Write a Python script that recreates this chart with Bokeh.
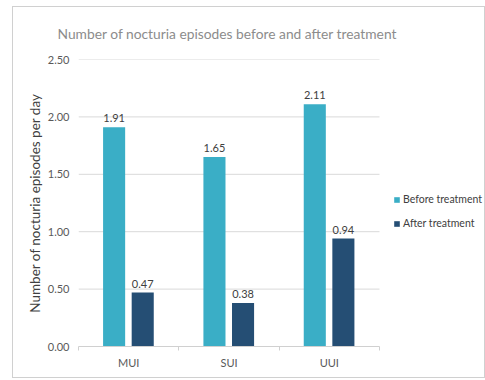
import numpy as np
from bokeh.plotting import figure
from bokeh.models import ColumnDataSource, LabelSet, Legend, LegendItem, Range1d, FixedTicker, CustomJSTickFormatter
from bokeh.core.properties import value
from bokeh.embed import file_html
from bokeh.resources import INLINE

categories = ["MUI", "SUI", "UUI"]
before = [1.91, 1.65, 2.11]
after = [0.47, 0.38, 0.94]
before_labels = ["1.91", "1.65", "2.11"]
after_labels = ["0.47", "0.38", "0.94"]
y_ticks = [0.0, 0.5, 1.0, 1.5, 2.0, 2.5]

n = len(categories)
centers = np.arange(n) + 0.5
src = ColumnDataSource(dict(xb=centers - 0.145, xa=centers + 0.14, before=before, after=after,
                            bl=before_labels, al=after_labels))
grid_src = ColumnDataSource(dict(y=y_ticks[1:], x0=[0] * (len(y_ticks) - 1), x1=[n] * (len(y_ticks) - 1)))

FONT = "Lato"
C_BEFORE = "#3aaec6"
C_AFTER = "#254e74"

# frame: 65 px left border, categories span 301 px, frame continues to the right edge for the legend
px_per_cat = 301 / n
frame_w = 473 - 65
p = figure(width=473, height=372, x_range=Range1d(0, frame_w / px_per_cat), y_range=Range1d(0, 2.5),
           output_backend="svg", toolbar_location=None,
           min_border_left=65, min_border_right=0, min_border_top=52, min_border_bottom=33)
p.margin = (6, 0, 0, 12)
p.styles = {"border": "1px solid #d0d0d0"}

p.title.text = "Number of nocturia episodes before and after treatment"
p.title.text_font = FONT
p.title.text_font_size = "13.8px"
p.title.text_font_style = "normal"
p.title.text_color = "#8c8c8c"
p.title.offset = -21
p.title.standoff = 31
p.title.vertical_align = "top"

p.segment(x0="x0", x1="x1", y0="y", y1="y", source=grid_src, line_color="#d9d9d9", line_width=1)

r1 = p.vbar(x="xb", top="before", width=0.22, source=src, fill_color=C_BEFORE, line_color=None)
r2 = p.vbar(x="xa", top="after", width=0.22, source=src, fill_color=C_AFTER, line_color=None)

for xcol, col, lab in (("xb", "before", "bl"), ("xa", "after", "al")):
    p.add_layout(LabelSet(x=xcol, y=col, text=lab, source=src,
                          text_align="center", text_baseline="bottom", y_offset=5,
                          text_font=value(FONT), text_font_size="11px", text_color="#404040"))

p.yaxis.ticker = FixedTicker(ticks=y_ticks)
p.yaxis.formatter = CustomJSTickFormatter(code="return tick.toFixed(2);")
p.yaxis.axis_line_color = None
p.yaxis.major_tick_line_color = None
p.yaxis.minor_tick_line_color = None
p.yaxis.major_tick_out = 0
p.yaxis.minor_tick_out = 0
p.yaxis.major_label_standoff = 9
p.yaxis.axis_label = "Number of nocturia episodes per day"
p.yaxis.axis_label_text_font = FONT
p.yaxis.axis_label_text_font_size = "13.5px"
p.yaxis.axis_label_text_font_style = "normal"
p.yaxis.axis_label_text_color = "#404040"
p.yaxis.axis_label_standoff = 2

p.xaxis.ticker = FixedTicker(ticks=list(centers), minor_ticks=list(range(n + 1)))
p.xaxis.major_label_overrides = {float(c): cat for c, cat in zip(centers, categories)}
p.xaxis.bounds = (0, n)
p.xaxis.axis_line_color = "#d0d0d0"
p.xaxis.major_tick_line_color = None
p.xaxis.major_tick_out = 0
p.xaxis.major_tick_in = 0
p.xaxis.minor_tick_line_color = "#d0d0d0"
p.xaxis.minor_tick_out = 4
p.xaxis.minor_tick_in = 0
p.xaxis.major_label_standoff = 5

for ax in (p.xaxis, p.yaxis):
    ax.major_label_text_font = FONT
    ax.major_label_text_font_size = "11px"
    ax.major_label_text_color = "#595959"

p.xgrid.grid_line_color = None
p.ygrid.grid_line_color = None
p.outline_line_color = None

legend = Legend(items=[LegendItem(label="Before treatment", renderers=[r1]),
                       LegendItem(label="After treatment", renderers=[r2])],
                location=(315, 115), border_line_color=None, background_fill_alpha=0,
                padding=0, margin=0, spacing=8, glyph_width=7, glyph_height=7,
                label_standoff=3, label_text_font=FONT, label_text_font_size="10.5px",
                label_text_color="#404040", label_height=16)
p.add_layout(legend, "center")

open("out.html", "w").write(file_html(p, INLINE))
